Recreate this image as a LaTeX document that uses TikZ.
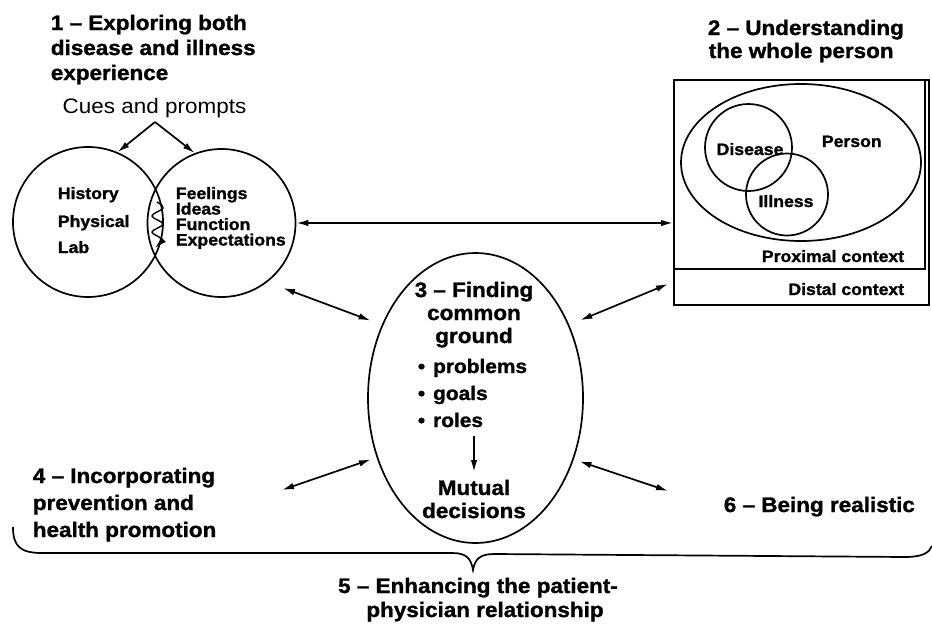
\documentclass[tikz,border=0pt]{standalone}
\usepackage{fontspec}
\setmainfont{Liberation Sans}
\newfontfamily\widefont{Liberation Sans}[FakeStretch=1.07, BoldFeatures={FakeBold=1.3}]
\usetikzlibrary{arrows.meta,shapes.geometric}
\begin{document}
\begin{tikzpicture}[x=1pt,y=-1pt,
  line width=1.7pt,
  tip/.style={-{Latex[length=12pt,width=6.5pt]}},
  dtip/.style={{Latex[length=12pt,width=6.5pt]}-{Latex[length=12pt,width=6.5pt]}},
  ttl/.style={inner sep=0, font=\widefont\bfseries\fontsize{21}{25}\selectfont},
  cue/.style={inner sep=0, font=\widefont\fontsize{21}{25}\selectfont},
  lbl/.style={inner sep=0, font=\widefont\bfseries\fontsize{16.5}{19}\selectfont},
  bul/.style={inner sep=0, font=\widefont\bfseries\fontsize{19.5}{23}\selectfont},
  circ/.style={draw, circle, inner sep=0},
  ell/.style={draw, ellipse, inner sep=0},
  box/.style={draw, rectangle, inner sep=0, anchor=north west},
  ]
\useasboundingbox (0,0) rectangle (932,629);

% ---------- 1: exploring ----------
\node[ttl, anchor=base west] (t1a) at (50,30) {1 – Exploring both};
\node[ttl, anchor=base west] (t1b) at (50,55) {disease and illness};
\node[ttl, anchor=base west] (t1c) at (50,80) {experience};
\node[cue, anchor=base] (cues) at (154.5,113) {Cues and prompts};
\coordinate (apex) at (155,122);

\node[circ, minimum size=150pt] (lc) at (88,222) {};
\node[circ, minimum size=148pt] (rc) at (221.5,223) {};

\draw[tip] (apex) -- (lc.67);
\draw[tip] (apex) -- (rc.111);

\node[lbl, anchor=base west] (hist) at (57,199) {History};
\node[lbl, anchor=base west] (phys) at (57,227) {Physical};
\node[lbl, anchor=base west] (lab) at (57,253) {Lab};

\node[lbl, anchor=base west] (feel) at (175,199) {Feelings};
\node[lbl, anchor=base west] (idea) at (175,214.5) {Ideas};
\node[lbl, anchor=base west] (func) at (175,230) {Function};
\node[lbl, anchor=base west] (expe) at (175,245.5) {Expectations};

\draw[tip, line width=1.4pt] plot[smooth, tension=0.6] coordinates
  {(157,202) (163,208) (152,216) (163,224) (152,232) (161,239) (155,248)};

% ---------- 2: whole person ----------
\node[ttl, anchor=base west] (t2a) at (707,35) {2 – Understanding};
\node[ttl, anchor=base west] (t2b) at (708,58) {the whole person};

\node[box, minimum width=255pt, minimum height=225pt] (distal) at (673,79) {};
\node[box, minimum width=251pt, minimum height=189pt] (prox) at (673,79) {};
\node[ell, minimum width=240pt, minimum height=157pt] (person) at (801,162.5) {};
\node[circ, minimum size=87pt] (dis) at (748.5,147.5) {};
\node[circ, minimum size=82pt] (ill) at (787,194.5) {};

\node[lbl, anchor=base] (dislbl) at (750,155) {Disease};
\node[lbl, anchor=base west] (perlbl) at (821,147) {Person};
\node[lbl, anchor=base] (illlbl) at (786,207) {Illness};
\node[lbl, anchor=base east] (proxlbl) at (905,262) {Proximal context};
\node[lbl, anchor=base east] (distlbl) at (905,295) {Distal context};

\draw[dtip] (rc.east) -- (rc.east -| prox.west);

% ---------- 3: common ground ----------
\node[ell, minimum width=215pt, minimum height=290pt] (ce) at (475.5,398) {};
\node[ttl, anchor=base] (t3a) at (474,297) {3 – Finding};
\node[ttl, anchor=base] (t3b) at (474,320) {common};
\node[ttl, anchor=base] (t3c) at (474,343) {ground};
\node[bul, anchor=base west] (b1) at (417,373) {•\hspace{8pt}problems};
\node[bul, anchor=base west] (b2) at (417,400) {•\hspace{8pt}goals};
\node[bul, anchor=base west] (b3) at (417,427) {•\hspace{8pt}roles};
\node[ttl, anchor=base] (m1) at (474,495) {Mutual};
\node[ttl, anchor=base] (m2) at (474,518) {decisions};
\coordinate (ra) at (474,436);
\coordinate (rb) at (474,472);
\draw[tip] (ra) -- (rb);

% ---------- connectors to common ground ----------
\coordinate (ul) at (283,288);
\coordinate (ur) at (668,284);
\coordinate (ll) at (282,490);
\coordinate (lr) at (668,491);
\draw[dtip, shorten >=12pt] (ul) -- (ce.142);
\draw[dtip, shorten >=12pt] (ur) -- (ce.38);
\draw[dtip, shorten >=6pt] (ll) -- (ce.211);
\draw[dtip, shorten >=6pt] (lr) -- (ce.-32);

% ---------- 4, 6 ----------
\node[ttl, anchor=base west] (t4a) at (32,483) {4 – Incorporating};
\node[ttl, anchor=base west] (t4b) at (32,510) {prevention and};
\node[ttl, anchor=base west] (t4c) at (32,537) {health promotion};
\node[ttl, anchor=base west] (t6) at (723,512) {6 – Being realistic};

% ---------- 5: brace ----------
\draw (13,527) .. controls (13,546) and (20,553) .. (42,553)
  -- (452,553) .. controls (466,553) and (471,558) .. (473,570)
  .. controls (475,559) and (480,554) .. (494,554)
  -- (905,557) .. controls (922,557) and (929,553) .. (932,546);
\node[ttl, anchor=base] (t5a) at (478,593) {5 – Enhancing the patient-};
\node[ttl, anchor=base] (t5b) at (485,617) {physician relationship};
\end{tikzpicture}
\end{document}
